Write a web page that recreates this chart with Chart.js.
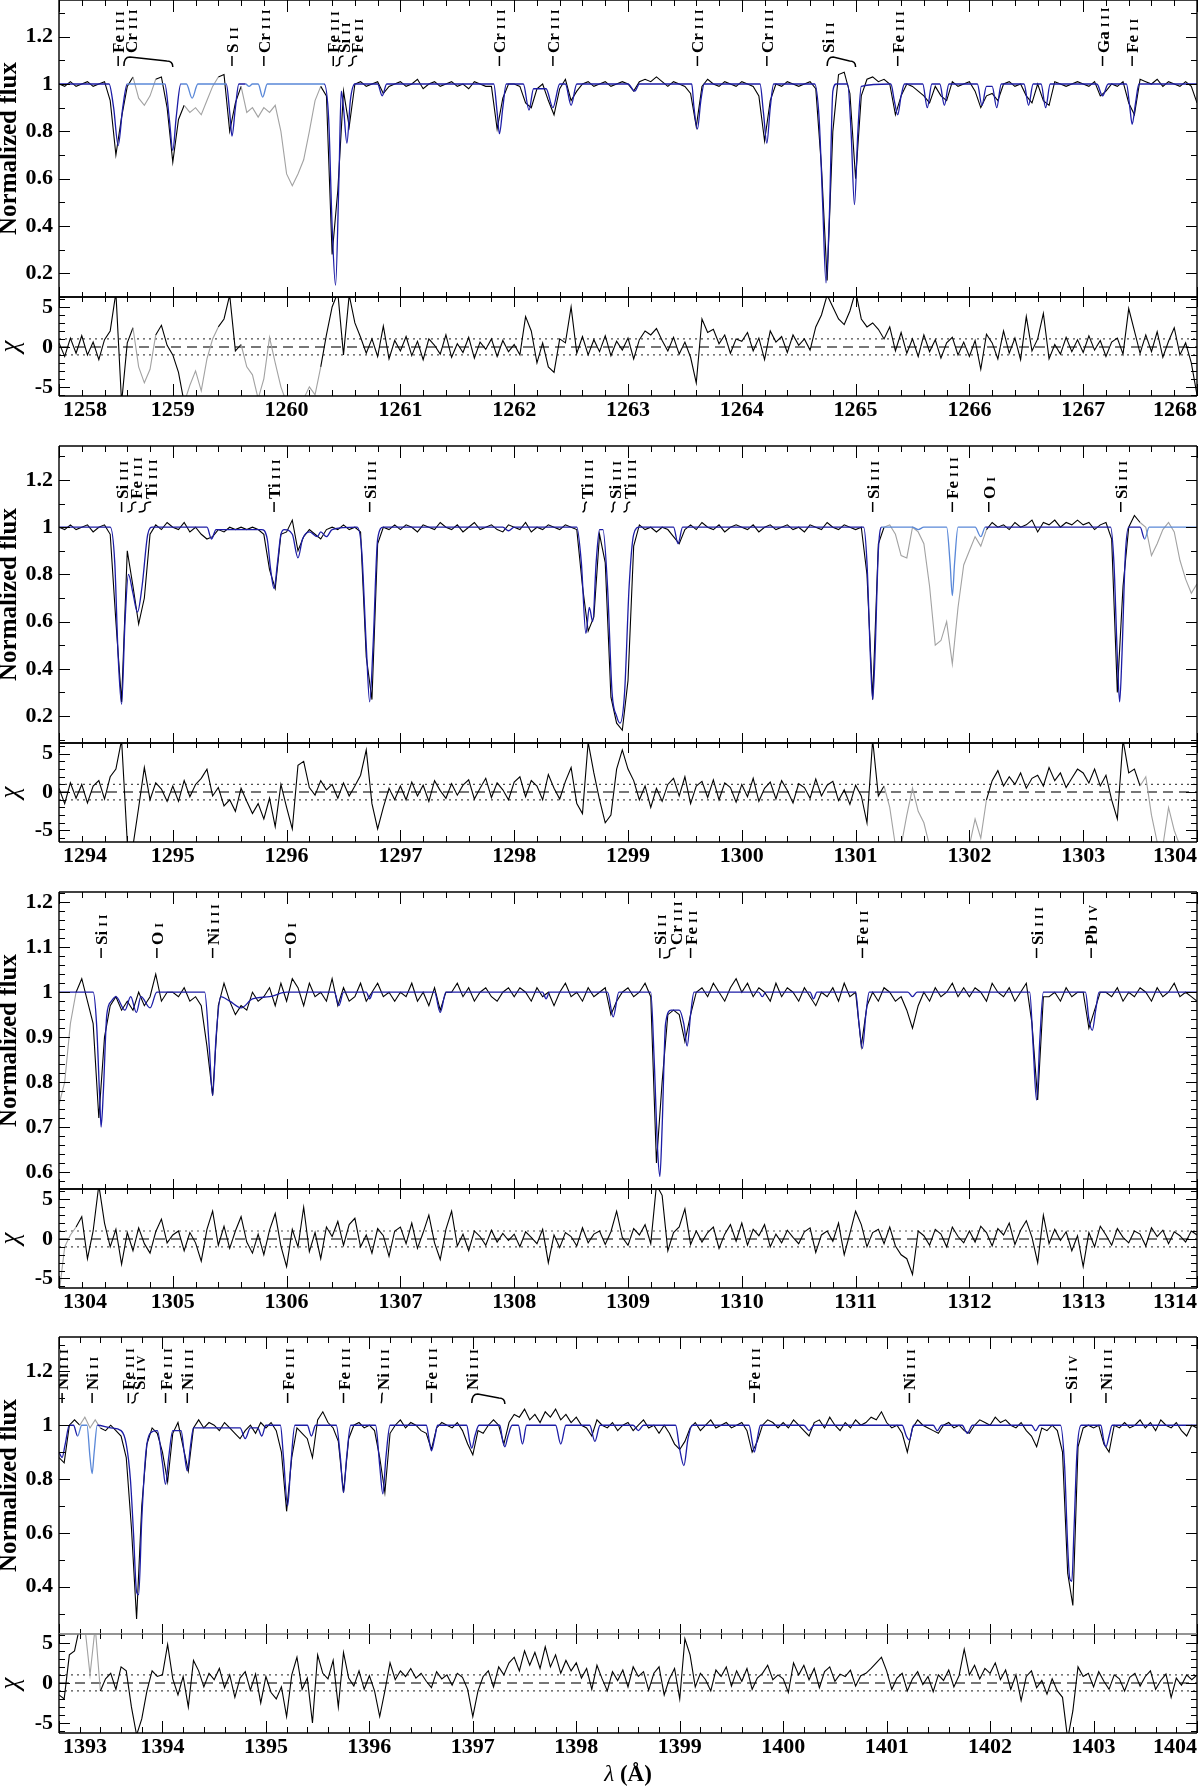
<!DOCTYPE html>
<html>
<head>
<meta charset="utf-8">
<script src="https://cdn.jsdelivr.net/npm/chart.js@4.4.0/dist/chart.umd.min.js"></script>
<style>
  html, body { margin: 0; padding: 0; background: #fff; }
  #page { position: relative; width: 1200px; height: 1791px; overflow: hidden; }
  #page canvas { position: absolute; left: 0; }
</style>
</head>
<body>
<div id="page"></div>
<script>
// grid spacing of the observed spectrum (Angstrom); each row below covers one Angstrom
const STEP = 0.05;

// ---------- panel 1 : 1258 - 1268 A ----------
const p1Flux = [
  [1.00,.99,1.01,.99,1.00,1.01,.99,1.00,1.01,.93,.70,.86,.99,1.03,.94,.91,.95,1.02,1.03,.90],
  [.67,.85,.91,.88,.90,.87,.93,.99,1.03,1.04,.80,.92,.99,.88,.90,.86,.90,.88,.91,.80],
  [.62,.57,.62,.68,.80,.93,.99,.95,.28,.55,.97,.82,1.00,1.01,.99,1.00,1.01,.96,.99,1.00],
  [1.01,.99,1.00,1.02,.98,1.00,1.01,.99,1.00,1.01,.99,1.00,.98,1.01,1.00,.99,.99,.81,.94,1.00],
  [1.00,.99,.92,.90,.98,1.00,.93,.87,.98,1.02,.93,.97,1.00,1.01,.99,1.00,1.01,.99,1.00,1.01],
  [1.00,.97,1.01,1.02,1.01,1.03,1.01,.99,1.01,1.00,.99,.96,.82,.99,1.02,1.00,.99,1.01,1.00,.99],
  [1.01,1.00,.99,.95,.76,.93,1.00,.99,1.01,1.00,.99,1.00,1.01,.98,.65,.17,.80,1.04,1.05,.96],
  [.60,.95,1.02,1.03,1.01,1.02,1.00,.87,.95,1.00,.99,.97,.95,.92,.99,.95,.93,1.01,.99,1.00],
  [1.01,.97,.90,.95,.96,.93,1.00,1.01,.99,1.00,.95,.92,1.00,.93,.91,1.01,1.00,.99,1.00,1.01],
  [1.00,.99,1.01,.95,.97,1.00,.99,1.01,.92,.87,1.02,1.01,1.00,1.02,.99,1.01,1.00,.99,1.01,.99],
  [.92]
];
const p1Chi = [
  [0.5,-1.2,1.1,-0.8,1.4,-1.0,0.6,-1.6,0.9,2.0,6.8,-7,0.5,2.4,-2.5,-4.5,-2.8,1.5,2.7,0.2],
  [-1.0,-3.2,-7,-4.8,-3.0,-5.5,-1.5,1.0,2.5,3.5,6.5,-0.5,0.3,-2.5,-3.5,-6.5,-4,1.2,-2,-5],
  [-7,-7,-7,-6.5,-5,-6,-2.5,1.5,5,6.8,-1,6.5,3,1.2,-0.8,1.0,-1.2,2.6,-1.5,0.8],
  [-0.5,1.3,-1.1,0.7,-1.6,1.0,0.2,-0.9,1.5,-1.3,0.4,-0.7,1.2,-1.4,0.6,-0.3,1.0,-1.2,0.8,-0.6],
  [0.3,-1.0,3.8,2.0,-2.0,0.5,-2.5,-3.2,1.0,0.5,5.0,-0.8,1.3,-1.0,0.9,-0.6,1.4,-1.1,0.7,-0.4],
  [1.1,-1.5,0.9,2.0,1.5,2.3,0.8,-0.5,1.2,-0.9,0.6,-1.3,-4.5,3.5,1.8,2.2,0.4,1.5,-0.8,1.0],
  [0.7,1.8,-0.5,1.1,-1.6,2.0,0.6,1.3,-0.7,1.5,0.2,1.0,-0.4,2.5,4,6.5,5,3.5,2.8,4.5],
  [7,3.5,2.5,3.0,2.2,1.0,2.5,-0.5,1.8,-0.8,1.0,-1.2,1.5,-0.6,0.9,-1.4,0.5,1.2,-1.0,0.6],
  [-1.2,0.8,-2.8,1.6,0.5,-1.5,2.0,-0.8,1.1,-1.6,3.8,-0.5,1.0,4.2,-1.5,0.3,-0.9,1.2,-0.6,0.9],
  [-0.7,1.4,-0.4,0.8,-1.2,0.6,1.1,-0.9,4.8,2.0,-0.8,1.5,-0.6,1.9,-1.3,0.7,2.4,-1.0,0.5,-2.0],
  [-6]
];
const p1Model = [
  [1258,1],[1258.44,1],[1258.48,.9],[1258.52,.74],[1258.56,.9],[1258.6,1],
  [1258.93,1],[1258.97,.85],[1259.0,.72],[1259.03,.86],[1259.07,1],
  [1259.12,1],[1259.17,.94],[1259.22,1],
  [1259.47,1],[1259.5,.88],[1259.52,.78],[1259.55,.9],[1259.58,1],
  [1259.64,1],[1259.67,.99],[1259.7,1],[1259.75,1],[1259.79,.945],[1259.83,1],
  [1260.33,1],[1260.37,.85],[1260.4,.4],[1260.43,.15],[1260.46,.6],[1260.48,.97],[1260.5,.9],[1260.53,.75],[1260.56,.93],[1260.6,1],
  [1260.8,1],[1260.84,.95],[1260.88,1],
  [1261.82,1],[1261.85,.88],[1261.87,.79],[1261.9,.9],[1261.93,1],
  [1262.08,1],[1262.13,.89],[1262.17,.98],[1262.28,.98],[1262.34,.9],[1262.4,1],[1262.45,1],[1262.5,.91],[1262.55,1],
  [1263.0,1],[1263.06,.97],[1263.1,1],
  [1263.56,1],[1263.58,.9],[1263.61,.81],[1263.64,.93],[1263.67,1],
  [1264.16,1],[1264.19,.88],[1264.22,.75],[1264.25,.9],[1264.28,1],
  [1264.64,1],[1264.68,.85],[1264.71,.5],[1264.74,.16],[1264.77,.45],[1264.8,.97],[1264.83,1],
  [1264.93,1],[1264.96,.8],[1264.99,.49],[1265.02,.8],[1265.05,.99],
  [1265.31,1],[1265.34,.93],[1265.37,.87],[1265.4,.95],[1265.43,1],
  [1265.59,1],[1265.63,.9],[1265.67,1],[1265.74,1],[1265.78,.91],[1265.82,1],
  [1266.07,1],[1266.11,.91],[1266.15,.99],[1266.2,.99],[1266.24,.9],[1266.28,1],
  [1266.48,1],[1266.52,.91],[1266.56,1],[1266.63,1],[1266.67,.9],[1266.71,1],
  [1267.12,1],[1267.17,.95],[1267.22,1],
  [1267.38,1],[1267.41,.9],[1267.43,.83],[1267.46,.92],[1267.49,1],[1268,1]
];
const p1Excluded = [[1258.67,1258.84],[1259.08,1259.38],[1259.62,1260.32]];
const p1Lines = [
  [1258.52,'Fe','III','tick'],
  [1258.63,'Cr','III','brace',1258.57,1259.0],
  [1259.52,'S','II','tick'],
  [1259.80,'Cr','III','tick'],
  [1260.41,'Fe','III','tick'],
  [1260.50,'Si','II','tilde',1260.43],
  [1260.62,'Fe','II','tilde',1260.54],
  [1261.87,'Cr','III','tick'],
  [1262.34,'Cr','III','tick'],
  [1263.61,'Cr','III','tick'],
  [1264.22,'Cr','III','tick'],
  [1264.76,'Si','II','brace',1264.75,1265.0],
  [1265.37,'Fe','III','tick'],
  [1267.17,'Ga','III','tick'],
  [1267.43,'Fe','II','tick']
];

// ---------- panel 2 : 1294 - 1304 A ----------
const p2Flux = [
  [1.00,.99,1.01,.99,1.00,1.01,.98,1.00,1.01,.97,.60,.26,.90,.75,.59,.70,.97,1.01,.99,1.02],
  [1.00,.99,1.02,.98,1.00,.97,.95,.96,.99,.98,1.00,.99,1.00,.99,1.00,.99,.97,.82,.74,.97],
  [.98,1.03,.90,.96,.99,.97,.95,.99,1.00,.99,1.01,.99,1.00,.98,.45,.27,.93,1.00,.99,1.01],
  [.99,1.01,1.00,.98,1.01,1.00,.99,1.02,1.00,.99,1.01,.98,1.00,1.02,.99,1.00,1.01,.99,.98,1.01],
  [1.00,.99,1.02,.98,1.00,.99,1.01,1.00,.99,1.01,1.00,.99,.75,.56,.62,.97,.85,.28,.17,.14],
  [.35,.92,1.01,.99,1.00,.98,1.00,.99,.96,.93,.99,1.01,.99,1.02,1.00,.99,1.01,.98,1.00,1.01],
  [1.00,.99,1.01,.98,1.00,1.01,.99,1.00,1.01,.99,1.00,.98,1.01,1.00,.99,1.02,1.00,.99,1.01,1.00],
  [.99,1.00,.80,.27,.93,1.00,1.01,.97,.88,.87,1.00,.98,.93,.75,.50,.52,.60,.42,.66,.84],
  [.90,.96,.92,.99,1.02,1.00,1.01,.99,1.02,1.00,1.01,1.03,.98,1.02,1.01,1.03,1.00,1.02,1.01,1.03],
  [1.01,1.02,.99,1.01,1.02,.95,.30,.75,1.00,1.05,1.02,1.00,.88,.93,.99,1.02,.98,.86,.78,.72],
  [.76]
];
const p2Chi = [
  [0.5,-1.5,1.2,-0.8,1.0,-1.4,0.8,1.5,-0.9,2.0,3.0,6.8,-6.5,-7,-2.0,3.2,-1.0,1.2,0.4,-1.2],
  [0.8,-1.2,1.5,-0.6,1.0,1.8,3.0,-0.5,0.6,-1.8,-1.0,-2.5,0.5,-1.2,-2.8,-1.5,-3.5,-0.8,-4.5,1.0],
  [-2.0,-4.8,3.5,4.0,0.6,-0.4,1.5,0.3,1.0,-0.8,1.2,-0.5,0.8,2.2,5.5,-1.5,-4.8,-2.0,0.5,-1.0],
  [0.8,-1.0,1.3,-0.5,0.9,-1.2,1.5,0.2,-0.8,1.1,-0.4,0.9,1.6,-0.9,0.5,1.8,-0.7,1.2,0.3,-1.0],
  [1.3,2.0,-0.6,1.5,0.8,-1.0,2.3,0.5,-0.9,1.4,3.2,-1.5,-2.8,6.5,2.5,-1.0,-4.0,-3.0,3.0,5.5],
  [3.0,1.5,-1.0,0.8,-2.0,0.5,-1.2,1.0,1.8,-0.5,2.0,-1.5,0.8,1.4,-0.7,1.6,-1.0,1.2,0.6,-1.3],
  [1.0,-0.6,1.8,-1.2,0.5,1.3,-0.9,1.5,0.2,-1.4,1.1,0.6,-0.8,1.7,-0.5,0.9,1.4,-1.1,0.3,-1.6],
  [0.9,-0.5,-4.0,6.8,-0.5,0.8,-2.0,-7,-7,-3.0,0.5,-2.5,-4.0,-7,-7,-7,-7,-7,-7,-7],
  [-7,-3.5,-6,-1.0,1.5,2.8,0.8,2.0,1.0,2.5,0.5,1.8,2.2,0.8,3.2,1.5,2.5,0.6,1.8,3.0],
  [2.5,1.2,3.0,0.8,2.2,-1.0,-3.5,6.8,2.5,3.0,0.8,2.0,-3.0,-6.5,-7,-2.0,-5,-7,-7,-7],
  [-7]
];
const p2Model = [
  [1294,1],[1294.45,1],[1294.49,.85],[1294.52,.45],[1294.55,.25],[1294.58,.6],[1294.61,.8],[1294.65,.72],[1294.69,.64],[1294.73,.75],[1294.78,.97],[1294.82,1],
  [1295.3,1],[1295.34,.95],[1295.38,.99],[1295.5,.99],[1295.78,.99],[1295.83,.95],[1295.86,.82],[1295.89,.74],[1295.92,.85],[1295.95,.97],[1295.98,.99],
  [1296.05,.97],[1296.1,.87],[1296.14,.95],[1296.2,.98],[1296.27,.96],[1296.3,.98],[1296.35,.96],[1296.4,.99],
  [1296.62,1],[1296.66,.9],[1296.7,.5],[1296.73,.26],[1296.76,.5],[1296.8,.95],[1296.85,1],
  [1297.9,1],[1297.95,.985],[1298.0,1],
  [1298.55,1],[1298.59,.85],[1298.63,.55],[1298.66,.66],[1298.69,.6],[1298.72,.85],[1298.75,.99],[1298.78,.99],
  [1298.82,.75],[1298.86,.3],[1298.9,.2],[1298.93,.17],[1298.97,.3],[1299.01,.75],[1299.05,.97],[1299.1,1],
  [1299.4,1],[1299.44,.93],[1299.48,1],
  [1301.07,1],[1301.1,.85],[1301.13,.45],[1301.15,.27],[1301.17,.45],[1301.2,.9],[1301.23,1],
  [1301.5,1],[1301.55,.99],[1301.6,1],[1301.8,1],[1301.83,.85],[1301.85,.71],[1301.87,.85],[1301.9,1],
  [1302.05,1],[1302.1,.96],[1302.14,1],
  [1303.24,1],[1303.27,.85],[1303.3,.45],[1303.32,.26],[1303.34,.45],[1303.37,.88],[1303.4,1],
  [1303.5,1],[1303.54,.95],[1303.58,1],[1304,1]
];
const p2Excluded = [[1301.27,1302.17],[1303.52,1304.01]];
const p2Lines = [
  [1294.55,'Si','III','tick'],
  [1294.68,'Fe','III','tilde',1294.60],
  [1294.81,'Ti','III','tilde',1294.70],
  [1295.89,'Ti','III','tick'],
  [1296.73,'Si','III','tick'],
  [1298.64,'Ti','III','tilde',1298.60],
  [1298.89,'Si','III','tilde',1298.85],
  [1299.02,'Ti','III','tilde',1298.96],
  [1301.15,'Si','III','tick'],
  [1301.85,'Fe','III','tick'],
  [1302.17,'O','I','tick'],
  [1303.33,'Si','III','tick']
];

// ---------- panel 3 : 1304 - 1314 A ----------
const p3Flux = [
  [.75,.80,.93,1.00,1.03,.98,.93,.72,.90,.97,.99,.96,.98,.96,1.00,.97,.99,1.04,.98,1.00],
  [1.00,.99,1.01,.98,.99,.97,.88,.77,.97,1.02,.98,.95,.97,.96,1.00,.98,.99,1.01,.97,1.02],
  [.98,1.03,1.01,.97,1.02,.99,1.00,.98,1.03,.97,1.01,.98,.99,1.02,.98,1.00,1.02,.99,1.00,.98],
  [1.00,.99,1.02,.98,1.00,.97,1.01,.96,1.00,1.00,1.02,.99,1.01,.98,1.00,1.01,.99,.98,1.00,1.01],
  [.99,1.01,1.00,.98,1.01,.99,1.00,.97,1.00,1.02,.99,1.00,.98,1.01,.99,1.00,1.01,.95,.98,1.00],
  [1.01,.99,1.00,1.02,.99,.62,.80,.95,.96,.95,.89,.95,1.00,1.01,.99,1.02,1.00,.98,1.01,1.03],
  [1.00,1.02,.99,1.01,1.00,.98,1.02,.99,1.01,1.00,.98,1.01,.99,.97,1.00,.99,1.01,.98,1.02,.99],
  [1.00,.88,.97,1.00,.98,1.01,1.00,.98,.99,.96,.92,.97,1.00,.98,1.01,.99,1.00,1.02,.99,1.01],
  [.99,1.01,1.00,.98,1.02,1.00,.99,1.01,.98,1.00,1.02,.93,.76,.99,.99,1.00,.98,1.01,.99,1.00],
  [1.00,.92,.96,1.00,1.00,.99,1.01,.98,1.00,.99,1.01,1.00,.98,1.01,.99,1.00,1.02,.99,1.00,.99],
  [.98]
];
const p3Chi = [
  [-7,-1.0,0.5,1.5,2.8,-2.5,1.0,6.8,2.0,-1.0,1.2,-3.2,0.8,-1.5,1.4,-0.6,-1.8,0.9,2.5,-0.5],
  [0.5,1.0,-1.5,0.8,-0.5,-2.8,1.2,3.5,-0.8,1.6,-1.2,1.0,2.8,-0.4,-1.8,0.6,-2.0,1.1,3.2,-0.9],
  [-3.5,1.2,-1.0,4.0,-1.6,0.8,-2.5,1.5,0.3,2.2,-0.8,1.8,2.6,-1.0,0.5,-1.8,1.3,0.4,-2.2,1.0],
  [1.5,-0.6,2.0,-1.2,0.8,3.0,-0.5,-2.6,1.2,3.5,-0.9,0.6,-1.5,1.0,0.3,-0.8,1.1,-0.4,0.7,-0.2],
  [0.6,-1.0,0.9,0.2,-0.6,1.2,-3.0,0.5,-1.1,0.8,0.3,-0.9,1.4,-0.5,0.6,1.0,-0.7,0.9,3.5,0.2],
  [-0.8,1.3,0.5,1.8,-0.6,6.8,5.5,-1.5,0.8,1.5,3.8,-0.7,1.0,-0.4,0.8,1.5,-1.2,0.6,1.8,-0.3],
  [2.0,-0.8,1.2,0.4,1.8,-1.0,0.6,-0.5,1.1,0.2,-0.6,0.9,1.4,-1.7,0.5,1.0,-0.3,2.0,-2.0,0.7],
  [3.5,1.8,-1.0,0.8,1.2,-0.6,1.5,-0.9,-2.0,-2.5,-4.5,1.0,0.4,-0.8,1.2,0.6,-1.0,1.5,0.3,-0.5],
  [1.0,-0.4,1.6,0.8,-0.9,1.3,0.5,2.0,-0.7,1.1,2.3,0.2,-3.0,3.0,-0.6,1.2,-0.2,0.9,-1.5,0.4],
  [-3.5,0.8,-1.0,1.6,0.5,-0.8,1.3,0.2,-0.5,1.0,0.6,-0.9,1.4,0.3,1.1,-0.6,0.9,0.4,-0.4,1.0],
  [0.5]
];
const p3Model = [
  [1304,1],[1304.3,1],[1304.33,.93],[1304.36,.75],[1304.37,.7],[1304.39,.78],[1304.42,.95],[1304.46,.98],[1304.5,.99],
  [1304.58,.96],[1304.63,.99],[1304.68,.955],[1304.72,.99],[1304.8,.965],[1304.86,1],
  [1305.28,1],[1305.32,.88],[1305.35,.77],[1305.38,.9],[1305.42,.99],[1305.5,.98],[1305.6,.965],[1305.7,.985],[1305.85,.99],[1306.0,1],
  [1306.42,1],[1306.46,.97],[1306.5,1],[1306.7,1],[1306.73,.985],[1306.76,1],
  [1307.3,1],[1307.35,.955],[1307.4,1],
  [1308.25,1],[1308.28,.985],[1308.31,1],
  [1308.82,1],[1308.87,.945],[1308.92,1],
  [1309.2,1],[1309.23,.85],[1309.26,.65],[1309.28,.59],[1309.3,.7],[1309.33,.93],[1309.38,.96],[1309.45,.96],[1309.49,.93],[1309.52,.88],[1309.55,.95],[1309.58,1],
  [1310.15,1],[1310.18,.99],[1310.21,1],[1310.6,1],[1310.63,.985],[1310.66,1],
  [1311.0,1],[1311.03,.93],[1311.06,.875],[1311.09,.95],[1311.12,1],
  [1311.46,1],[1311.5,.99],[1311.54,1],
  [1312.53,1],[1312.56,.88],[1312.59,.76],[1312.62,.9],[1312.65,1],
  [1313.02,1],[1313.05,.94],[1313.08,.915],[1313.11,.96],[1313.14,1],[1314,1]
];
const p3Excluded = [[1303.99,1304.13]];
const p3Lines = [
  [1304.37,'Si','II','tick'],
  [1304.86,'O','I','tick'],
  [1305.35,'Ni','III','tick'],
  [1306.03,'O','I','tick'],
  [1309.28,'Si','II','tick'],
  [1309.42,'Cr','III','tilde',1309.31],
  [1309.55,'Fe','II','tick'],
  [1311.06,'Fe','II','tick'],
  [1312.59,'Si','III','tick'],
  [1313.07,'Pb','IV','tick']
];

// ---------- panel 4 : 1393 - 1404 A ----------
const p4Flux = [
  [.88,.86,1.00,1.02,1.00,1.03,.99,1.02,.99,.98,1.00,.98,.96,.88,.62,.28,.70,.93,.99,.97],
  [.90,.79,.97,1.01,.92,.83,.99,1.02,.99,1.01,1.00,.98,1.01,.99,.97,.95,.98,1.00,.97,1.01],
  [.99,1.01,.98,.90,.68,.88,.99,.97,.95,.88,1.02,1.05,1.01,.99,.94,.75,.95,1.00,1.01,.99],
  [1.00,.98,.88,.75,.97,1.00,1.02,.99,1.01,1.00,.98,.97,.91,.99,1.01,1.00,.99,1.01,.98,.93],
  [.89,.98,.97,1.00,1.02,1.00,.93,1.01,1.04,1.03,1.06,1.02,1.04,1.01,1.05,1.03,1.06,1.02,1.04,1.01],
  [1.03,1.00,.99,.96,1.02,1.00,.99,1.01,.98,1.00,1.01,.98,1.00,1.02,.99,1.00,.97,1.00,.97,.93],
  [.91,.94,.99,1.01,.98,1.00,1.02,.99,1.00,1.01,.99,1.00,1.01,.98,.90,.94,1.00,1.02,1.01,.99],
  [1.01,.99,1.02,1.00,.98,.96,1.01,1.02,.99,1.03,1.00,.98,1.01,.99,1.02,1.00,1.01,1.03,1.02,1.05],
  [1.01,.99,1.00,.97,.90,.99,1.02,1.00,.99,.98,.97,1.00,1.01,.99,1.00,.98,.97,1.00,1.02,1.01],
  [1.00,1.03,1.01,1.02,1.00,.99,1.01,.98,.96,.92,.99,.98,1.00,.98,.90,.45,.33,.92,.99,1.00],
  [.99,1.00,.93,.90,1.00,.99,1.01,.99,1.00,1.02,.99,1.01,.98,1.02,1.00,.99,1.01,.98,.96,1.00],
  [.99]
];
const p4Chi = [
  [-1.5,-2.0,3.5,4.0,7,7,1.0,7,-1.0,0.5,1.2,-0.8,2.0,1.5,-3.0,-6.5,-4.5,-1.0,1.5,0.8],
  [1.0,4.8,0.5,-1.5,0.8,-3.0,2.8,1.5,-0.5,1.2,0.4,1.8,-0.6,1.0,-1.8,0.6,1.4,-0.9,1.1,-2.5],
  [0.8,-1.2,-2.0,-0.5,-4.2,1.0,3.2,-0.8,0.6,-5.0,3.5,1.2,0.5,2.8,-3.0,3.8,0.6,-0.4,1.5,-0.8],
  [0.9,-1.0,-4.2,-1.0,2.5,0.4,1.5,0.8,1.8,0.6,1.2,0.2,-0.6,1.4,0.5,1.0,-0.3,1.2,0.7,-0.8],
  [-4.2,-1.0,0.8,1.5,-0.5,2.0,1.0,2.5,3.2,1.5,4.0,2.2,3.8,1.8,4.5,2.0,3.5,1.2,2.8,1.5],
  [2.5,0.6,1.8,-0.8,2.2,0.5,-1.0,1.4,0.3,1.6,-0.5,2.0,0.8,1.4,-0.9,1.2,2.0,-1.5,0.5,1.8],
  [-2.0,5.5,3.5,-0.5,1.2,0.4,-1.0,1.6,0.8,2.0,-0.4,1.5,0.2,1.8,-0.8,0.6,1.2,2.2,0.4,1.0],
  [0.5,-1.2,2.5,1.0,2.2,0.4,1.8,-0.6,1.4,2.0,0.2,1.1,0.8,1.6,-0.4,0.9,1.2,1.8,2.5,3.2],
  [1.5,-0.8,0.6,1.2,-1.0,0.5,1.4,-0.2,0.8,-1.1,1.0,0.3,1.6,-0.5,0.9,4.2,1.0,2.2,0.5,1.8],
  [1.2,2.5,0.4,1.6,-0.8,1.0,-2.2,0.8,1.5,-0.6,0.3,-1.4,0.5,-1.0,-1.8,-7,-3.5,2.0,0.8,1.2],
  [-0.5,1.4,0.2,-0.8,1.0,0.5,-1.0,0.7,1.2,-0.4,0.8,1.5,-0.8,0.3,1.1,-1.8,0.6,-0.3,1.0,0.4],
  [1.0]
];
const p4Model = [
  [1393,.9],[1393.03,.88],[1393.06,.93],[1393.1,1],[1393.14,1],[1393.18,.96],[1393.22,1],[1393.27,1],[1393.3,.88],[1393.32,.82],[1393.34,.9],[1393.37,1],
  [1393.5,.99],[1393.6,.98],[1393.65,.93],[1393.69,.8],[1393.72,.6],[1393.75,.38],[1393.77,.37],[1393.8,.65],[1393.84,.9],[1393.88,.97],[1393.95,.98],
  [1394.0,.86],[1394.03,.78],[1394.06,.88],[1394.1,.98],[1394.18,.98],[1394.21,.9],[1394.24,.83],[1394.27,.92],[1394.3,.99],
  [1394.75,.99],[1394.8,.95],[1394.85,.99],[1394.92,.99],[1394.96,.96],[1395.0,1],
  [1395.14,1],[1395.17,.88],[1395.21,.7],[1395.24,.85],[1395.28,1],
  [1395.4,1],[1395.44,.96],[1395.48,1],
  [1395.68,1],[1395.72,.88],[1395.75,.75],[1395.78,.88],[1395.82,1],
  [1396.06,1],[1396.1,.85],[1396.13,.745],[1396.16,.88],[1396.2,1],
  [1396.55,1],[1396.58,.94],[1396.6,.905],[1396.63,.95],[1396.66,1],
  [1396.94,1],[1396.97,.94],[1396.99,.915],[1397.02,.96],[1397.06,1],
  [1397.26,1],[1397.29,.94],[1397.31,.92],[1397.34,.96],[1397.38,1],
  [1397.44,1],[1397.48,.93],[1397.52,1],[1397.8,1],[1397.85,.93],[1397.9,1],
  [1398.13,1],[1398.18,.94],[1398.23,1],[1398.55,1],[1398.6,.98],[1398.65,1],
  [1398.96,1],[1399.0,.91],[1399.04,.85],[1399.08,.95],[1399.12,1],
  [1399.67,1],[1399.7,.94],[1399.72,.9],[1399.75,.95],[1399.78,1],
  [1400.2,1],[1400.25,.98],[1400.3,1],
  [1401.15,1],[1401.19,.96],[1401.22,.945],[1401.26,1],
  [1401.45,1],[1401.49,.98],[1401.53,1],[1401.73,1],[1401.78,.97],[1401.83,1],
  [1402.4,1],[1402.44,.98],[1402.48,1],
  [1402.68,1],[1402.72,.85],[1402.75,.55],[1402.77,.43],[1402.79,.42],[1402.81,.6],[1402.84,.9],[1402.88,1],
  [1403.07,1],[1403.1,.94],[1403.12,.92],[1403.15,.96],[1403.18,1],[1404,1]
];
const p4Excluded = [[1393.18,1393.38]];
const p4Lines = [
  [1393.03,'Ni','III','tick'],
  [1393.32,'Ni','II','tick'],
  [1393.67,'Fe','III','tick'],
  [1393.77,'Si','IV','tilde',1393.70],
  [1394.03,'Fe','III','tick'],
  [1394.24,'Ni','III','tick'],
  [1395.21,'Fe','III','tick'],
  [1395.75,'Fe','III','tick'],
  [1396.13,'Ni','III','tilde',1396.11],
  [1396.60,'Fe','III','tick'],
  [1396.99,'Ni','III','brace',1396.99,1397.31],
  [1399.72,'Fe','III','tick'],
  [1401.22,'Ni','III','tick'],
  [1402.78,'Si','IV','tick'],
  [1403.12,'Ni','III','tick']
];

// residual guide levels (chi = 0 dashed, +-1 dotted)
const chiLevels = [0, 1, -1];

// ---------- drawing ----------
const FONT = '"Liberation Serif", "Times New Roman", Times, serif';
const BLACK = '#000';
const GREY = '#a2a2a2';
const MODEL = '#1c1ca6';
const MODEL_OFF = '#5a88d8';
const TICK_PX = 22;

const panels = [
  { top: 0, split: 297, bottom: 396, xMin: 1258, xMax: 1268, yMin: 0.1, yMax: 1.355, yStep: 0.2, yMinor: 0.1,
    chiMin: -6.15, chiMax: 6.25, sep: BLACK, flux: p1Flux, chi: p1Chi, model: p1Model, grey: p1Excluded, lines: p1Lines },
  { top: 446, split: 743, bottom: 842, xMin: 1294, xMax: 1304, yMin: 0.086, yMax: 1.344, yStep: 0.2, yMinor: 0.1,
    chiMin: -6.5, chiMax: 6.4, sep: BLACK, flux: p2Flux, chi: p2Chi, model: p2Model, grey: p2Excluded, lines: p2Lines },
  { top: 892, split: 1189, bottom: 1288, xMin: 1304, xMax: 1314, yMin: 0.562, yMax: 1.223, yStep: 0.1, yMinor: 0.02,
    chiMin: -6.2, chiMax: 6.3, sep: BLACK, flux: p3Flux, chi: p3Chi, model: p3Model, grey: p3Excluded, lines: p3Lines },
  { top: 1337, split: 1634, bottom: 1733, xMin: 1393, xMax: 1404, yMin: 0.224, yMax: 1.328, yStep: 0.2, yMinor: 0.1,
    chiMin: -6.25, chiMax: 6.1, sep: '#8c8c8c', flux: p4Flux, chi: p4Chi, model: p4Model, grey: p4Excluded, lines: p4Lines, last: true }
];

function rowsToPoints(start, rows) {
  const pts = [];
  rows.forEach((row, r) => row.forEach((v, c) => pts.push({ x: +(start + r + c * STEP).toFixed(3), y: v })));
  return pts;
}

function inRanges(x, ranges) {
  return ranges.some(([a, b]) => x > a && x < b);
}

function segColor(ranges, on, off) {
  return c => inRanges((c.p0.parsed.x + c.p1.parsed.x) / 2, ranges) ? off : on;
}

function line(ctx, x1, y1, x2, y2) {
  ctx.beginPath();
  ctx.moveTo(x1, y1);
  ctx.lineTo(x2, y2);
  ctx.stroke();
}

// frame with inward ticks on all four sides
function drawFrame(chart, p, part) {
  const { ctx, chartArea: a, scales } = chart;
  const xs = scales.x, ys = scales.y;
  ctx.save();
  ctx.lineWidth = 1.4;
  ctx.strokeStyle = part === 'chi' ? p.sep : BLACK;
  line(ctx, a.left, a.top, a.right, a.top);
  ctx.strokeStyle = part === 'main' ? p.sep : BLACK;
  line(ctx, a.left, a.bottom, a.right, a.bottom);
  ctx.strokeStyle = BLACK;
  line(ctx, a.left, a.top, a.left, a.bottom);
  line(ctx, a.right, a.top, a.right, a.bottom);

  ctx.lineWidth = 1;
  const n = Math.round((p.xMax - p.xMin) / 0.2);
  for (let i = 0; i <= n; i++) {
    const px = Math.round(xs.getPixelForValue(p.xMin + i * 0.2)) + 0.5;
    const major = i % 5 === 0;
    const top = part === 'main' ? (major ? 12 : 6) : (major ? 10 : 5);
    const bot = part === 'main' ? (major ? 10 : 5) : (major ? 12 : 6);
    line(ctx, px, a.top, px, a.top + top);
    line(ctx, px, a.bottom, px, a.bottom - bot);
  }

  const minor = part === 'main' ? p.yMinor : 1;
  const majorStep = part === 'main' ? p.yStep : 5;
  const k0 = Math.ceil(ys.min / minor - 1e-9), k1 = Math.floor(ys.max / minor + 1e-9);
  for (let k = k0; k <= k1; k++) {
    const v = k * minor;
    const r = v / majorStep;
    const major = Math.abs(r - Math.round(r)) < 1e-6;
    const py = Math.round(ys.getPixelForValue(v)) + 0.5;
    const len = major ? 11 : 6;
    line(ctx, a.left, py, a.left + len, py);
    line(ctx, a.right, py, a.right - len, py);
  }
  ctx.restore();
}

// species identifications along the top of each flux panel
function drawLineIds(chart, lines) {
  const { ctx, chartArea: a, scales: { x: xs } } = chart;
  const base = a.top + 66;
  ctx.save();
  ctx.beginPath();
  ctx.rect(a.left, a.top, a.right - a.left, a.bottom - a.top);
  ctx.clip();
  ctx.strokeStyle = BLACK;
  ctx.fillStyle = BLACK;
  ctx.lineWidth = 1.5;
  for (const [lam, el, ion, mark, m1, m2] of lines) {
    const x = xs.getPixelForValue(lam);
    ctx.beginPath();
    if (mark === 'brace') {
      const x1 = xs.getPixelForValue(m1), x2 = xs.getPixelForValue(m2);
      ctx.moveTo(x1, base);
      ctx.quadraticCurveTo(x1, base - 9, x1 + 6, base - 9);
      ctx.lineTo(x2 - 6, base - 5);
      ctx.quadraticCurveTo(x2, base - 5, x2, base + 1);
    } else if (mark === 'tilde') {
      const x0 = xs.getPixelForValue(m1);
      ctx.moveTo(x0, base);
      ctx.bezierCurveTo(x0 + (x - x0) * 1.1, base - 1, x0 - (x - x0) * 0.1, base - 9, x, base - 10);
    } else {
      ctx.moveTo(x, base);
      ctx.lineTo(x, base - 10);
    }
    ctx.stroke();

    // element in bold, ionisation stage as spaced small roman numerals
    ctx.save();
    ctx.translate(x + 6, base - 13);
    ctx.rotate(-Math.PI / 2);
    ctx.textAlign = 'left';
    ctx.textBaseline = 'alphabetic';
    ctx.font = 'bold 17px ' + FONT;
    ctx.fillText(el, 0, 0);
    let pos = ctx.measureText(el).width + 4;
    ctx.font = 'bold 12px ' + FONT;
    for (const ch of ion) {
      ctx.fillText(ch, pos, 0);
      pos += ch === 'V' ? 9.5 : 7.5;
    }
    ctx.restore();
  }
  ctx.restore();
}

// wavelength labels under each residual panel (edge labels kept inside the frame)
function drawXLabels(chart, p) {
  const { ctx, chartArea: a, scales: { x: xs } } = chart;
  ctx.save();
  ctx.fillStyle = BLACK;
  ctx.font = 'bold ' + TICK_PX + 'px ' + FONT;
  ctx.textBaseline = 'top';
  for (let k = Math.ceil(p.xMin); k <= Math.floor(p.xMax); k++) {
    const px = xs.getPixelForValue(k);
    const t = String(k);
    const w = ctx.measureText(t).width;
    let tx = px, align = 'center';
    if (px - w / 2 < a.left + 2) { tx = a.left + 4; align = 'left'; }
    else if (px + w / 2 > a.right) { tx = a.right; align = 'right'; }
    ctx.textAlign = align;
    ctx.fillText(t, tx, a.bottom + 3);
  }
  if (p.last) {
    const cx = (a.left + a.right) / 2, cy = a.bottom + 42;
    ctx.textBaseline = 'middle';
    ctx.textAlign = 'left';
    ctx.font = 'italic 23px ' + FONT;
    const w1 = ctx.measureText('λ').width;
    ctx.font = 'bold 23px ' + FONT;
    const w2 = ctx.measureText(' (Å)').width;
    const x0 = cx - (w1 + w2) / 2;
    ctx.font = 'italic 23px ' + FONT;
    ctx.fillText('λ', x0, cy);
    ctx.font = 'bold 23px ' + FONT;
    ctx.fillText(' (Å)', x0 + w1, cy);
  }
  ctx.restore();
}

function yAxis(min, max, step, title, titleFont) {
  return {
    min: min, max: max,
    grid: { display: false, drawTicks: false },
    border: { display: false },
    ticks: {
      stepSize: step, includeBounds: false, padding: 6, color: BLACK,
      font: { family: FONT, size: TICK_PX, weight: 'bold' },
      callback: v => String(+v.toFixed(2))
    },
    title: { display: true, text: title, color: BLACK, padding: 0, font: titleFont },
    afterFit: s => { s.width = 59; }
  };
}

function makeCanvas(top, height) {
  const c = document.createElement('canvas');
  c.width = 1200;
  c.height = height;
  c.style.top = top + 'px';
  document.getElementById('page').appendChild(c);
  return c;
}

const PAD = 20;
const BELOW = 62;

panels.forEach((p, idx) => {
  // flux + model
  const mainCanvas = makeCanvas(p.top - PAD, p.split - p.top + 2 * PAD);
  new Chart(mainCanvas, {
    type: 'line',
    data: {
      datasets: [
        {
          data: p.model.map(([x, y]) => ({ x, y })),
          borderColor: MODEL, borderWidth: 1.3, pointRadius: 0,
          cubicInterpolationMode: 'monotone',
          segment: { borderColor: segColor(p.grey, MODEL, MODEL_OFF) }
        },
        {
          data: rowsToPoints(p.xMin, p.flux),
          borderColor: BLACK, borderWidth: 1.1, pointRadius: 0, tension: 0,
          segment: { borderColor: segColor(p.grey, BLACK, GREY) }
        }
      ]
    },
    options: {
      responsive: false, animation: false, events: [],
      layout: { padding: { top: PAD, bottom: PAD, left: 0, right: 3 } },
      plugins: { legend: { display: false }, tooltip: { enabled: false } },
      scales: {
        x: { type: 'linear', display: false, min: p.xMin, max: p.xMax },
        y: yAxis(p.yMin, p.yMax, p.yStep, 'Normalized flux', { family: FONT, size: 25, weight: 'bold', lineHeight: 0.8 })
      }
    },
    plugins: [{
      id: 'frameMain' + idx,
      afterDatasetsDraw(chart) {
        drawLineIds(chart, p.lines);
        drawFrame(chart, p, 'main');
      }
    }]
  });

  // residuals
  const chiCanvas = makeCanvas(p.split - PAD, p.bottom - p.split + PAD + BELOW);
  const guides = chiLevels.map(v => ({
    data: [{ x: p.xMin, y: v }, { x: p.xMax, y: v }],
    borderColor: '#4a4a4a', borderWidth: v === 0 ? 1.5 : 1.2, pointRadius: 0,
    borderDash: v === 0 ? [10, 6] : [2, 4]
  }));
  new Chart(chiCanvas, {
    type: 'line',
    data: {
      datasets: [
        {
          data: rowsToPoints(p.xMin, p.chi),
          borderColor: BLACK, borderWidth: 1.1, pointRadius: 0, tension: 0,
          segment: { borderColor: segColor(p.grey, BLACK, GREY) }
        }
      ].concat(guides)
    },
    options: {
      responsive: false, animation: false, events: [],
      layout: { padding: { top: PAD, bottom: BELOW, left: 0, right: 3 } },
      plugins: { legend: { display: false }, tooltip: { enabled: false } },
      scales: {
        x: { type: 'linear', display: false, min: p.xMin, max: p.xMax },
        y: yAxis(p.chiMin, p.chiMax, 5, 'χ', { family: FONT, size: 27, style: 'italic', lineHeight: 0.8 })
      }
    },
    plugins: [{
      id: 'frameChi' + idx,
      afterDatasetsDraw(chart) {
        drawFrame(chart, p, 'chi');
        drawXLabels(chart, p);
      }
    }]
  });
});
</script>
</body>
</html>
